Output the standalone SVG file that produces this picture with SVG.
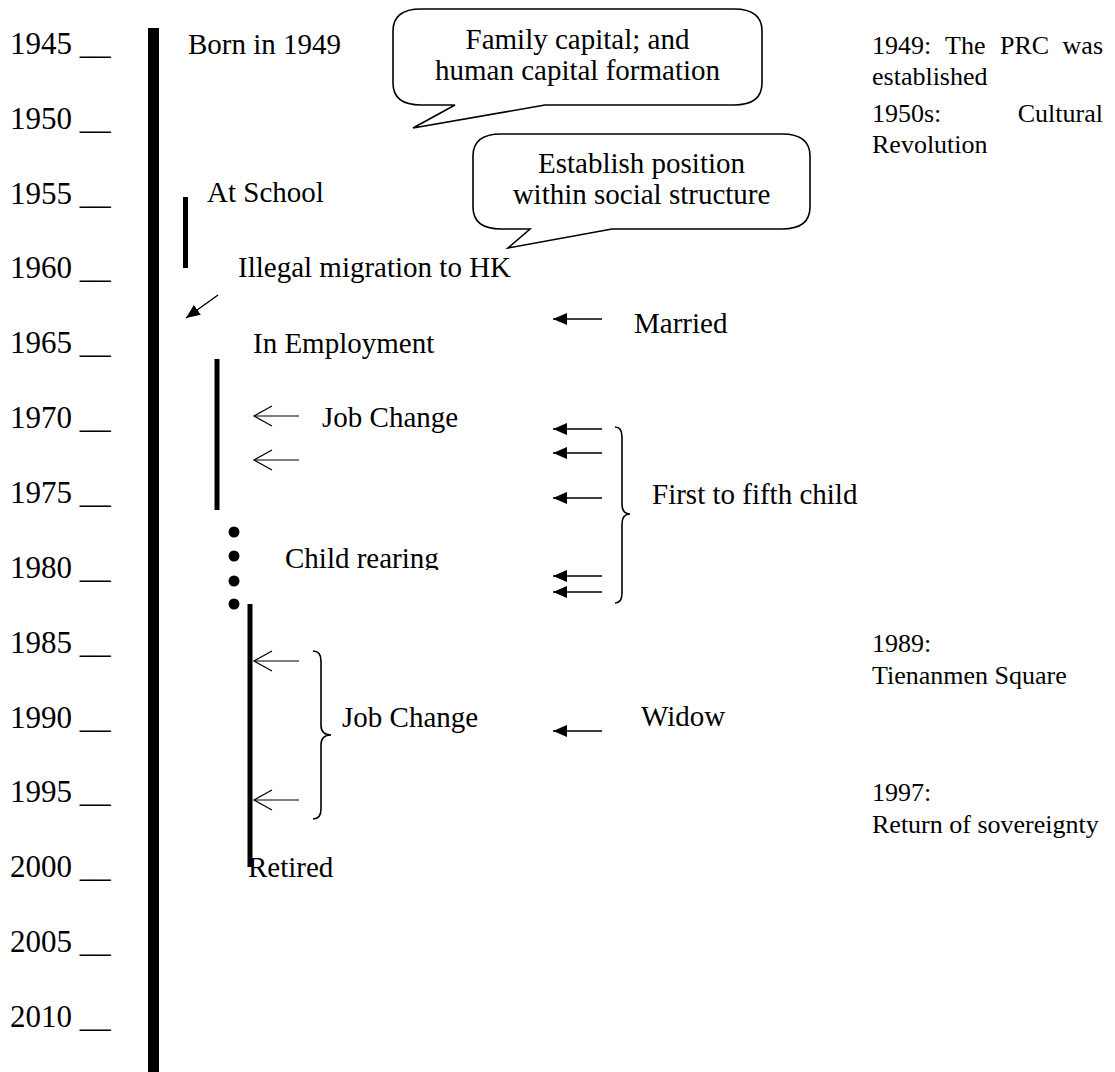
<svg xmlns="http://www.w3.org/2000/svg" width="1115" height="1072" viewBox="0 0 1115 1072">
<style>
text{font-family:"Liberation Serif","Times New Roman",serif;fill:#000}
.yr{font-size:31px}
.lb{font-size:29px}
.ev{font-size:26px}
.bub{fill:#fff;stroke:#000;stroke-width:1.6;stroke-linejoin:miter}
.bar{stroke:#000;fill:none}
.fa{stroke:#000;stroke-width:1.5;fill:none;marker-end:url(#fa)}
.oa{stroke:#000;stroke-width:1.2;fill:none;marker-end:url(#oa)}
.brace{stroke:#000;stroke-width:1.6;fill:none}
</style>
<defs>
<marker id="fa" viewBox="0 0 14 12" refX="14" refY="6" markerWidth="14" markerHeight="12" orient="auto" markerUnits="userSpaceOnUse"><path d="M0,0 L14,6 L0,12 Z" fill="#000"/></marker>
<marker id="oa" viewBox="-1 -1 20 22" refX="18" refY="10" markerWidth="20" markerHeight="22" orient="auto" markerUnits="userSpaceOnUse" overflow="visible"><path d="M0,0 L18,10 L0,20" fill="none" stroke="#000" stroke-width="1.2"/></marker>
<clipPath id="cr"><rect x="270" y="530" width="200" height="40"/></clipPath>
</defs>
<rect width="1115" height="1072" fill="#fff"/>

<g id="axis">
<rect x="148" y="28" width="11" height="1044" fill="#000"/>
<text class="yr" x="10" y="54">1945 __</text>
<text class="yr" x="10" y="129">1950 __</text>
<text class="yr" x="10" y="204">1955 __</text>
<text class="yr" x="10" y="278">1960 __</text>
<text class="yr" x="10" y="353">1965 __</text>
<text class="yr" x="10" y="428">1970 __</text>
<text class="yr" x="10" y="503">1975 __</text>
<text class="yr" x="10" y="578">1980 __</text>
<text class="yr" x="10" y="653">1985 __</text>
<text class="yr" x="10" y="728">1990 __</text>
<text class="yr" x="10" y="802">1995 __</text>
<text class="yr" x="10" y="877">2000 __</text>
<text class="yr" x="10" y="952">2005 __</text>
<text class="yr" x="10" y="1027">2010 __</text>
</g>

<g id="born"><text class="lb" x="188" y="54">Born in 1949</text></g>

<g id="bubble-family">
<path class="bub" d="M421,9 L734,9 Q762,9 762,31 L762,83 Q762,105 734,105 L545,105 L413,128 L455,105 L421,105 Q393,105 393,83 L393,31 Q393,9 421,9 Z"/>
<text class="lb" x="577.5" y="49" text-anchor="middle">Family capital; and</text>
<text class="lb" x="577.5" y="80" text-anchor="middle">human capital formation</text>
</g>

<g id="bubble-position">
<path class="bub" d="M501,134 L782,134 Q810,134 810,156 L810,207 Q810,229 782,229 L612,229 L508,248 L530,229 L501,229 Q473,229 473,207 L473,156 Q473,134 501,134 Z"/>
<text class="lb" x="641.5" y="173" text-anchor="middle">Establish position</text>
<text class="lb" x="641.5" y="204" text-anchor="middle">within social structure</text>
</g>

<g id="school">
<line class="bar" x1="185.5" y1="197" x2="185.5" y2="268" stroke-width="5"/>
<text class="lb" x="207" y="202">At School</text>
</g>

<g id="migration"><text class="lb" x="238" y="277">Illegal migration to HK</text></g>

<g id="employment">
<line class="bar" x1="217" y1="359" x2="217" y2="510" stroke-width="5"/>
<text class="lb" x="253" y="353">In Employment</text>
</g>

<g id="jobchange1"><text class="lb" x="322" y="427">Job Change</text></g>

<g id="childrearing">
<circle cx="234" cy="532" r="5.5" fill="#000"/>
<circle cx="234" cy="556" r="5.5" fill="#000"/>
<circle cx="234" cy="581" r="5.5" fill="#000"/>
<circle cx="234" cy="604" r="5.5" fill="#000"/>
<text class="lb" x="285" y="568" clip-path="url(#cr)">Child rearing</text>
</g>

<g id="working2">
<line class="bar" x1="250" y1="604" x2="250" y2="867" stroke-width="5"/>
</g>

<g id="jobchange2">
<path class="brace" d="M313,651 Q321,651 321,661 L321,725 Q321,735 331,735 Q321,735 321,745 L321,809 Q321,819 313,819"/>
<text class="lb" x="342" y="727">Job Change</text>
</g>

<g id="retired"><text class="lb" x="248" y="877">Retired</text></g>

<g id="married"><text class="lb" x="634" y="333">Married</text></g>

<g id="children">
<path class="brace" d="M615,427 Q622,427 622,437 L622,504 Q622,514 630,514 Q622,514 622,524 L622,593 Q622,603 615,603"/>
<text class="lb" x="652" y="504">First to fifth child</text>
</g>

<g id="widow"><text class="lb" x="641" y="726">Widow</text></g>

<g id="event-1949">
<text class="ev" x="872" y="54">1949:</text>
<text class="ev" x="945" y="54">The</text>
<text class="ev" x="1000" y="54">PRC</text>
<text class="ev" x="1103" y="54" text-anchor="end">was</text>
<text class="ev" x="872" y="85">established</text>
</g>
<g id="event-1950s">
<text class="ev" x="872" y="122">1950s:</text>
<text class="ev" x="1103" y="122" text-anchor="end">Cultural</text>
<text class="ev" x="872" y="153">Revolution</text>
</g>
<g id="event-1989">
<text class="ev" x="872" y="652">1989:</text>
<text class="ev" x="872" y="684">Tienanmen Square</text>
</g>
<g id="event-1997">
<text class="ev" x="872" y="801">1997:</text>
<text class="ev" x="872" y="833">Return of sovereignty</text>
</g>

<g id="connectors">
<line class="fa" x1="218" y1="295" x2="186" y2="318"/>
<line class="oa" x1="299" y1="416" x2="254" y2="416"/>
<line class="oa" x1="299" y1="460" x2="254" y2="460"/>
<line class="oa" x1="299" y1="661" x2="254" y2="661"/>
<line class="oa" x1="299" y1="800" x2="254" y2="800"/>
<line class="fa" x1="602" y1="319" x2="553" y2="319"/>
<line class="fa" x1="602" y1="429" x2="553" y2="429"/>
<line class="fa" x1="602" y1="453" x2="553" y2="453"/>
<line class="fa" x1="602" y1="498" x2="553" y2="498"/>
<line class="fa" x1="602" y1="576" x2="553" y2="576"/>
<line class="fa" x1="602" y1="592" x2="553" y2="592"/>
<line class="fa" x1="602" y1="731" x2="553" y2="731"/>
</g>
</svg>
